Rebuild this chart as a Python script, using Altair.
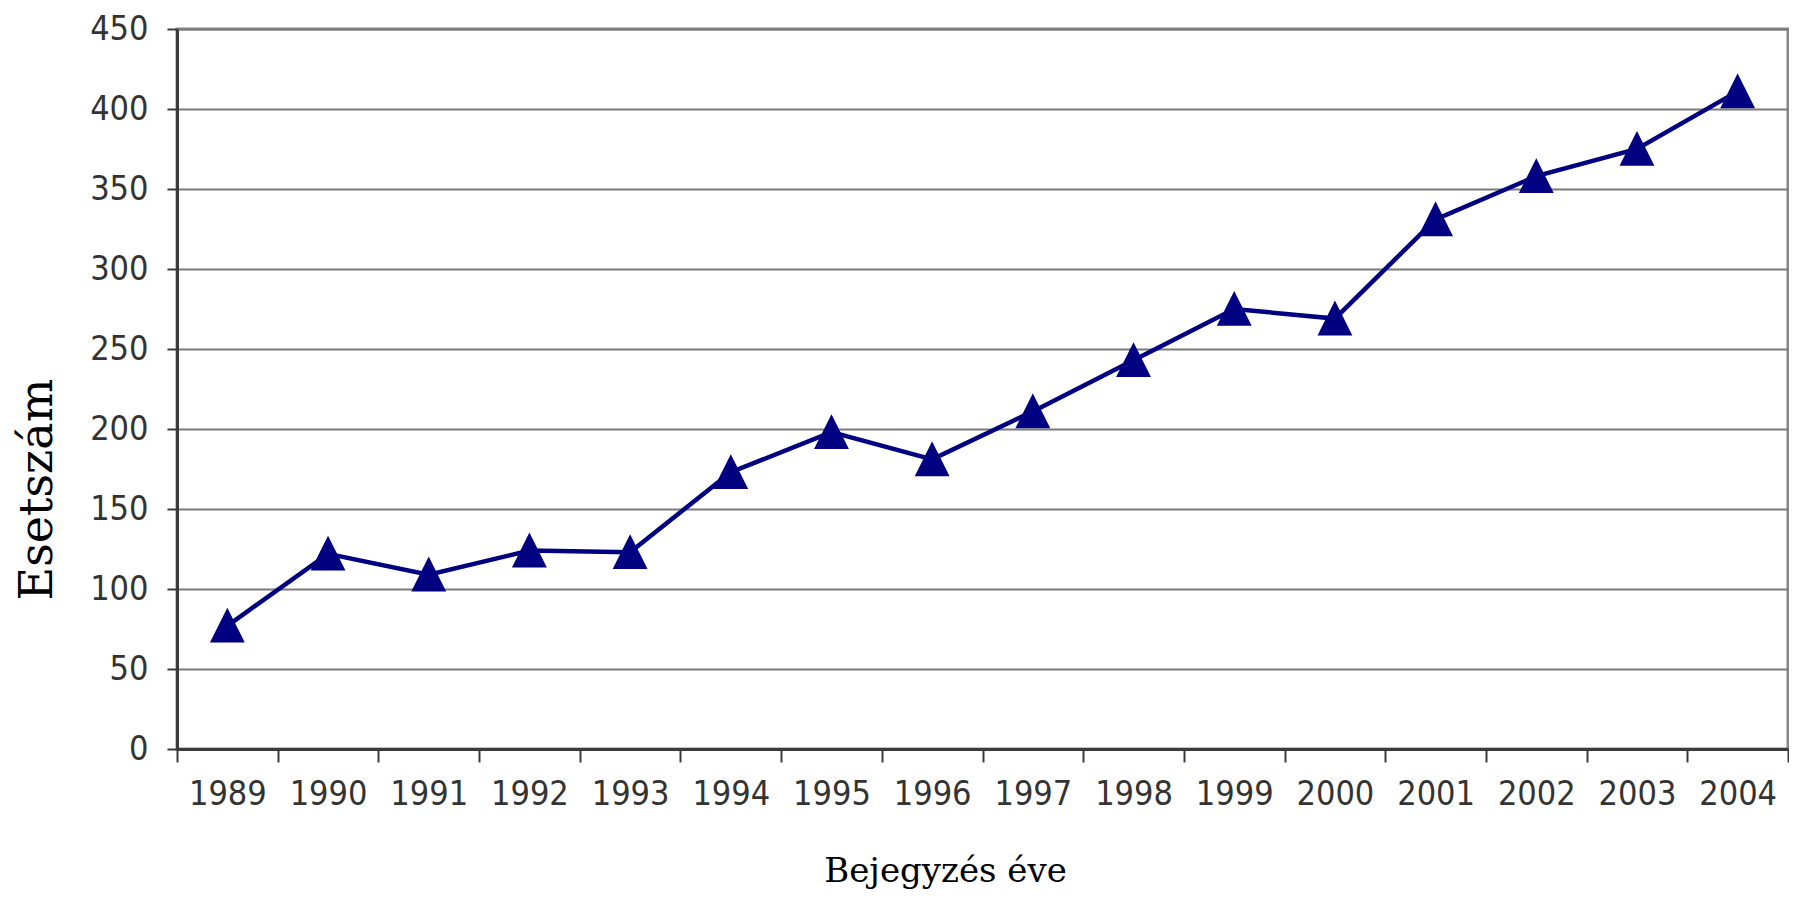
import altair as alt
import pandas as pd

years = ["1989", "1990", "1991", "1992", "1993", "1994", "1995", "1996",
         "1997", "1998", "1999", "2000", "2001", "2002", "2003", "2004"]
counts = [77, 122, 109, 124, 123, 173, 198, 181,
          211, 243, 275, 269, 331, 358, 375, 411]
y_ticks = [0, 50, 100, 150, 200, 250, 300, 350, 400, 450]

df = pd.DataFrame({"year": years, "count": counts})

LABEL_FONT = ("Liberation Sans Narrow, DejaVu Sans Condensed, Roboto Condensed, "
              "Liberation Sans, Arial, sans-serif")
TITLE_FONT = "DejaVu Serif, serif"
NAVY = "#000080"

x_enc = alt.X(
    "year:N",
    sort=years,
    scale=alt.Scale(paddingInner=0, paddingOuter=0),
    axis=alt.Axis(
        title="Bejegyzés éve",
        titleFont=TITLE_FONT,
        titleFontSize=34,
        titleFontWeight="normal",
        titleColor="#000000",
        titleX=768,
        titleY=132,
        titleAlign="center",
        titleBaseline="alphabetic",
        titleAngle=0,
        labelFont=LABEL_FONT,
        labelFontSize=34,
        labelColor="#333333",
        labelAngle=0,
        labelPadding=15,
        tickBand="extent",
        tickSize=13,
        tickColor="#3a3a3a",
        tickWidth=2,
        domainColor="#3a3a3a",
        domainWidth=3,
        grid=False,
    ),
)

y_enc = alt.Y(
    "count:Q",
    scale=alt.Scale(domain=[0, 450], nice=False, zero=True),
    axis=alt.Axis(
        values=y_ticks,
        title="Esetszám",
        titleFont=TITLE_FONT,
        titleFontSize=46,
        titleFontWeight="normal",
        titleColor="#000000",
        titleAngle=270,
        titleX=-126,
        titleY=460,
        titleAlign="center",
        titleBaseline="alphabetic",
        labelFont=LABEL_FONT,
        labelFontSize=34,
        labelColor="#333333",
        labelPadding=19,
        tickSize=10,
        tickColor="#3a3a3a",
        tickWidth=2,
        domainColor="#3a3a3a",
        domainWidth=3,
        grid=True,
        gridColor="#7a7a7a",
        gridWidth=2,
    ),
)

base = alt.Chart(df).encode(x=x_enc, y=y_enc)

line = base.mark_line(color=NAVY, strokeWidth=4.5)
points = base.mark_point(
    shape="M0,-1L1,1L-1,1Z",
    size=1000,
    filled=True,
    color=NAVY,
    stroke=NAVY,
    strokeWidth=2,
    opacity=1,
)

chart = (
    alt.layer(line, points)
    .properties(
        width=1611,
        height=720,
        autosize=alt.AutoSizeParams(type="none"),
        padding={"left": 169, "top": 21, "right": 1, "bottom": 141},
        background="#ffffff",
    )
    .configure_view(stroke="#888888", strokeWidth=3)
)

chart.save("out.html", embed_options={"renderer": "svg", "actions": False})
